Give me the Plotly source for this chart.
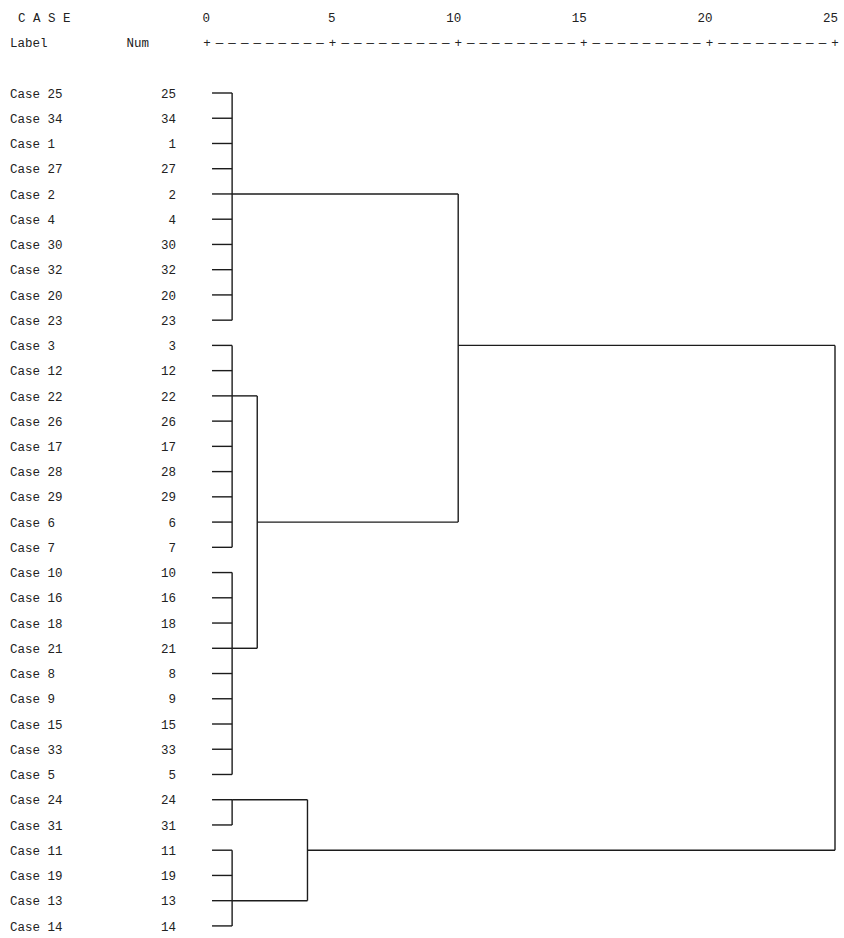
import plotly.graph_objects as go

# ---- data -------------------------------------------------------------
case_labels = ["Case 25", "Case 34", "Case 1", "Case 27", "Case 2", "Case 4",
               "Case 30", "Case 32", "Case 20", "Case 23", "Case 3", "Case 12",
               "Case 22", "Case 26", "Case 17", "Case 28", "Case 29", "Case 6",
               "Case 7", "Case 10", "Case 16", "Case 18", "Case 21", "Case 8",
               "Case 9", "Case 15", "Case 33", "Case 5", "Case 24", "Case 31",
               "Case 11", "Case 19", "Case 13", "Case 14"]
case_nums = [25, 34, 1, 27, 2, 4, 30, 32, 20, 23, 3, 12, 22, 26, 17, 28, 29, 6,
             7, 10, 16, 18, 21, 8, 9, 15, 33, 5, 24, 31, 11, 19, 13, 14]

# Rescaled distance cluster combine axis
tick_values = [0, 5, 10, 15, 20, 25]
tick_labels = ["0", "5", "10", "15", "20", "25"]

# Merges: children are ("leaf", row) or ("node", merge index)
merge_children = [
    [("leaf", r) for r in range(0, 10)],      # m0
    [("leaf", r) for r in range(10, 19)],     # m1
    [("leaf", r) for r in range(19, 28)],     # m2
    [("node", 1), ("node", 2)],               # m3
    [("node", 0), ("node", 3)],               # m4
    [("leaf", 28), ("leaf", 29)],             # m5
    [("leaf", r) for r in range(30, 34)],     # m6
    [("node", 5), ("node", 6)],               # m7
    [("node", 4), ("node", 7)],               # m8 (root)
]
merge_height = [1.0, 1.0, 1.0, 2.0, 10.0, 1.0, 1.0, 4.0, 25.0]
merge_row = [4, 12, 22, 17, 10, 28, 32, 30, None]
leaf_start = 0.2

# ---- geometry ---------------------------------------------------------
W, H = 844, 938
X0_PX, UNIT_PX = 207.0, 25.12      # pixel of distance 0, pixels per unit
Y0_PX, ROW_PX = 93.0, 25.24        # pixel of first row, pixels per row
TXT_DY = 0.06                      # nudge so text sits centred on its row


def px_to_x(px):
    return (px - X0_PX) / UNIT_PX


def px_to_row(py):
    return (py - Y0_PX) / ROW_PX


FONT = dict(family="Liberation Mono, DejaVu Sans Mono, monospace",
            size=12.5, color="#222222")
LINE = dict(color="#1c1c1c", width=1.4)

fig = go.Figure()

# ---- dendrogram links --------------------------------------------------
xs, ys = [], []
for i, children in enumerate(merge_children):
    h = merge_height[i]
    rows = []
    for kind, ref in children:
        if kind == "leaf":
            cx, cr = leaf_start, ref
        else:
            cx, cr = merge_height[ref], merge_row[ref]
        rows.append(cr)
        xs += [cx, h, None]
        ys += [cr, cr, None]
    xs += [h, h, None]
    ys += [min(rows), max(rows), None]

fig.add_trace(go.Scatter(x=xs, y=ys, mode="lines", line=LINE,
                         hoverinfo="skip", cliponaxis=False))

rows = [r + TXT_DY for r in range(len(case_labels))]

# ---- case label and number columns ------------------------------------
fig.add_trace(go.Scatter(
    x=[px_to_x(10)] * len(rows), y=rows, mode="text", text=case_labels,
    textposition="middle right", textfont=FONT, cliponaxis=False,
    hoverinfo="skip"))
fig.add_trace(go.Scatter(
    x=[px_to_x(176)] * len(rows), y=rows, mode="text",
    text=[str(n) for n in case_nums],
    textposition="middle left", textfont=FONT, cliponaxis=False,
    hoverinfo="skip"))

# ---- header -----------------------------------------------------------
fig.add_trace(go.Scatter(
    x=[px_to_x(18), px_to_x(10)], y=[-3 + TXT_DY, -2 + TXT_DY], mode="text",
    text=["C A S E", "Label"], textposition="middle right",
    textfont=FONT, cliponaxis=False, hoverinfo="skip"))
fig.add_trace(go.Scatter(
    x=[px_to_x(149)], y=[-2 + TXT_DY], mode="text", text=["Num"],
    textposition="middle left", textfont=FONT, cliponaxis=False,
    hoverinfo="skip"))

# tick numbers, last digit over the '+'
fig.add_trace(go.Scatter(
    x=[v + 0.12 for v in tick_values], y=[-3 + TXT_DY] * len(tick_values),
    mode="text", text=tick_labels, textposition="middle left",
    textfont=FONT, cliponaxis=False, hoverinfo="skip"))

# ruler made of '+' and dash characters every half unit
ruler_x = [k * 0.5 for k in range(0, 51)]
ruler_txt = ["+" if (k % 10 == 0) else "\u2014" for k in range(0, 51)]
fig.add_trace(go.Scatter(
    x=ruler_x, y=[-2 + TXT_DY] * len(ruler_x), mode="text", text=ruler_txt,
    textposition="middle center", textfont=FONT, cliponaxis=False,
    hoverinfo="skip"))

fig.update_layout(
    width=W, height=H, margin=dict(l=0, r=0, t=0, b=0),
    paper_bgcolor="white", plot_bgcolor="white", showlegend=False,
    xaxis=dict(range=[px_to_x(0), px_to_x(W)], visible=False, fixedrange=True),
    yaxis=dict(range=[px_to_row(H), px_to_row(0)], visible=False,
               fixedrange=True),
)

fig.write_html("out.html")
